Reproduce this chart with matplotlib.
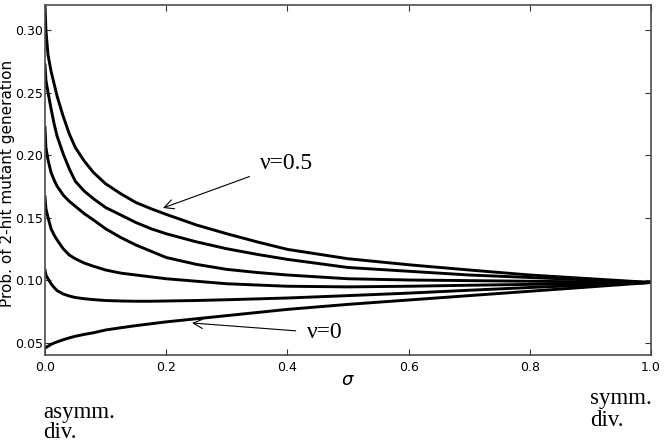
import matplotlib
matplotlib.use('Agg')
import matplotlib.pyplot as plt

plt.rcParams['font.family'] = ['DejaVu Sans']
plt.rcParams['mathtext.fontset'] = 'dejavusans'

sigma = [0, 0.0015, 0.005, 0.01, 0.015, 0.02, 0.03, 0.04, 0.05, 0.065,
         0.08, 0.1, 0.125, 0.15, 0.175, 0.2, 0.25, 0.3, 0.35, 0.4,
         0.5, 0.6, 0.7, 0.8, 0.9, 1.0]

nu_05 = [0.320, 0.300, 0.280, 0.267, 0.257, 0.247, 0.231, 0.217, 0.206, 0.195,
         0.186, 0.177, 0.169, 0.162, 0.157, 0.1525, 0.144, 0.137, 0.1305, 0.1245,
         0.117, 0.1122, 0.108, 0.104, 0.101, 0.098]
nu_04 = [0.272, 0.260, 0.250, 0.237, 0.225, 0.215, 0.201, 0.189, 0.179, 0.171,
         0.165, 0.158, 0.152, 0.146, 0.141, 0.137, 0.1305, 0.125, 0.1205, 0.1165,
         0.110, 0.107, 0.104, 0.102, 0.100, 0.098]
nu_03 = [0.222, 0.206, 0.196, 0.186, 0.180, 0.175, 0.168, 0.163, 0.159, 0.153,
         0.148, 0.141, 0.134, 0.128, 0.123, 0.118, 0.1125, 0.1085, 0.106, 0.104,
         0.101, 0.100, 0.0995, 0.099, 0.0985, 0.098]
nu_02 = [0.1665, 0.157, 0.150, 0.141, 0.136, 0.132, 0.125, 0.120, 0.117, 0.1135,
         0.111, 0.108, 0.1055, 0.104, 0.1025, 0.101, 0.099, 0.097, 0.096, 0.095,
         0.0945, 0.095, 0.0958, 0.0965, 0.0972, 0.098]
nu_01 = [0.108, 0.104, 0.101, 0.097, 0.094, 0.0915, 0.0888, 0.0872, 0.086, 0.085,
         0.0843, 0.0836, 0.0832, 0.083, 0.083, 0.0832, 0.0836, 0.0842, 0.0849, 0.0856,
         0.0875, 0.0895, 0.0918, 0.094, 0.096, 0.098]
nu_00 = [0.0456, 0.046, 0.047, 0.0485, 0.0496, 0.0505, 0.0522, 0.0537, 0.055, 0.0565,
         0.0578, 0.060, 0.0618, 0.0635, 0.065, 0.0665, 0.069, 0.0715, 0.074, 0.0765,
         0.0805, 0.084, 0.0875, 0.091, 0.0945, 0.098]

curves = [nu_05, nu_04, nu_03, nu_02, nu_01, nu_00]

xticks = [0.0, 0.2, 0.4, 0.6, 0.8, 1.0]
yticks = [0.05, 0.10, 0.15, 0.20, 0.25, 0.30]

W, H = 664, 442
fig = plt.figure(figsize=(W / 100, H / 100), dpi=100)
ax = fig.add_axes([45 / W, 1 - 355 / H, 606 / W, 350 / H])

for c in curves:
    ax.plot(sigma, c, color='black', lw=2.1, solid_joinstyle='round')

ax.set_xlim(0, 1)
ax.set_ylim(0.04, 0.32)
ax.set_xticks(xticks)
ax.set_xticklabels(['%.1f' % t for t in xticks])
ax.set_yticks(yticks)
ax.set_yticklabels(['%.2f' % t for t in yticks])
ax.tick_params(direction='in', top=True, right=True, length=4, width=0.8,
               labelsize=9, color='0.2')
ax.tick_params(axis='y', pad=1.5)
ax.tick_params(axis='x', pad=4)
for s in ax.spines.values():
    s.set_color('0.3')
    s.set_linewidth(1.2)

ax.set_ylabel('Prob. of 2-hit mutant generation', fontsize=11)
ax.yaxis.set_label_coords(-0.049, 0.49)
ax.set_xlabel(r'$\sigma$', fontsize=13)
ax.xaxis.set_label_coords(0.5, -0.045)

serif = ['Liberation Serif', 'DejaVu Serif']
ax.annotate('ν=0.5', xy=(0.1947, 0.1576), xytext=(0.355, 0.1936),
            fontsize=17, family=serif, ha='left', va='center',
            arrowprops=dict(arrowstyle='->', color='black', lw=0.8,
                            shrinkA=6, shrinkB=0))
ax.annotate('ν=0', xy=(0.2426, 0.0656), xytext=(0.432, 0.0576),
            fontsize=17, family=serif, ha='left', va='center',
            arrowprops=dict(arrowstyle='->', color='black', lw=0.8,
                            shrinkA=6, shrinkB=0))

fig.text(43 / W, 1 - 418 / H, 'asymm.', fontsize=16.5, family=serif, va='baseline')
fig.text(43 / W, 1 - 438 / H, 'div.', fontsize=16.5, family=serif, va='baseline')
fig.text(590 / W, 1 - 404 / H, 'symm.', fontsize=16.5, family=serif, va='baseline')
fig.text(590 / W, 1 - 426 / H, 'div.', fontsize=16.5, family=serif, va='baseline')

fig.savefig('out.png', dpi=100)
